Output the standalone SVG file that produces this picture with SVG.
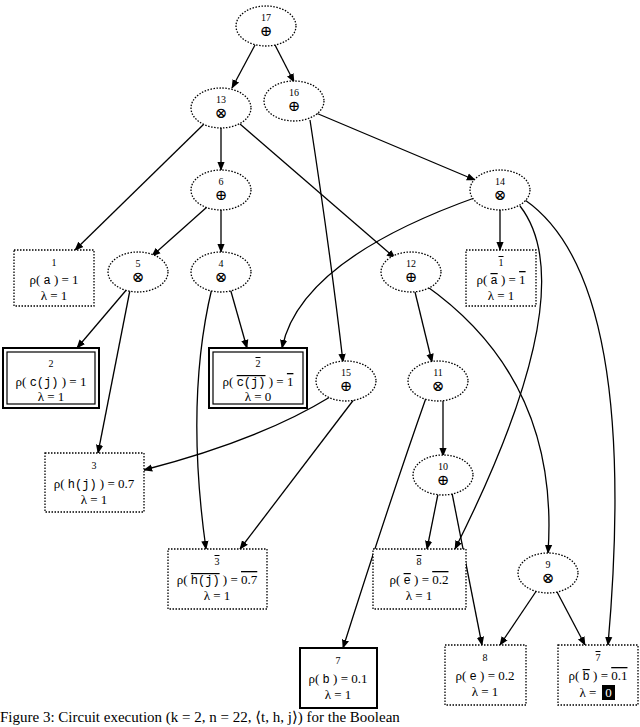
<svg xmlns="http://www.w3.org/2000/svg" width="640" height="727" viewBox="0 0 640 727">
<style>
.n{font-size:10px}.s{font-size:15px}.t{font-size:13px}
.m{font-family:"Liberation Mono",monospace;font-size:12px}
.ov{text-decoration:overline}
.e{fill:#fff;stroke:#000;stroke-width:1.3;stroke-dasharray:1.5 1.5}
.d{fill:#fff;stroke:#000;stroke-width:1.3;stroke-dasharray:1.5 1.5}
.b{fill:#fff;stroke:#000;stroke-width:2}
.c path{fill:none;stroke:#000;stroke-width:1.3;marker-end:url(#a)}
</style>
<defs><marker id="a" viewBox="0 0 10 10" refX="9" refY="5" markerWidth="7" markerHeight="7" orient="auto"><path d="M0,1 L10,5 L0,9 z" fill="#000"/></marker></defs>
<g class="c">
<path d="M255,45 L232,88"/><path d="M275,45 L294,82"/>
<path d="M221,128 L221,170"/><path d="M205,123 L75,250"/><path d="M240,124 L395,258"/>
<path d="M316,113 L475,180"/><path d="M310,120 Q330,250 343,362"/>
<path d="M207,207 L152,256"/><path d="M221,210 L221,252"/>
<path d="M500,210 L500,250"/><path d="M477,197 Q300,260 282,348"/>
<path d="M520,206 Q585,290 455,549"/><path d="M525,200 Q640,280 608,645"/>
<path d="M128,288 L77,348"/><path d="M130,290 L98,453"/>
<path d="M230,288 L247,348"/><path d="M212,288 Q185,400 206,549"/>
<path d="M415,292 L432,362"/><path d="M425,285 Q560,380 548,553"/>
<path d="M330,397 Q260,440 144,470"/><path d="M355,398 L240,549"/>
<path d="M443,400 L443,456"/><path d="M426,398 Q390,500 343,648"/>
<path d="M438,494 L427,549"/><path d="M452,493 L482,645"/>
<path d="M537,590 L500,645"/><path d="M556,590 L585,645"/>
</g>
<g font-family="Liberation Serif, DejaVu Serif, serif" text-anchor="middle" fill="#000">
<g id="n17"><ellipse class="e" cx="266" cy="26" rx="30" ry="20"/><text class="n" x="266" y="21">17</text><text class="s" x="266" y="36">⊕</text></g>
<g id="n13"><ellipse class="e" cx="221" cy="108" rx="30" ry="20"/><text class="n" x="221" y="103">13</text><text class="s" x="221" y="118">⊗</text></g>
<g id="n16"><ellipse class="e" cx="294" cy="101" rx="30" ry="20"/><text class="n" x="294" y="96">16</text><text class="s" x="294" y="111">⊕</text></g>
<g id="n6"><ellipse class="e" cx="221" cy="190" rx="30" ry="20"/><text class="n" x="221" y="185">6</text><text class="s" x="221" y="200">⊕</text></g>
<g id="n14"><ellipse class="e" cx="500" cy="190" rx="30" ry="20"/><text class="n" x="500" y="185">14</text><text class="s" x="500" y="200">⊗</text></g>
<g id="n5"><ellipse class="e" cx="138" cy="272" rx="30" ry="20"/><text class="n" x="138" y="267">5</text><text class="s" x="138" y="282">⊗</text></g>
<g id="n4"><ellipse class="e" cx="221" cy="272" rx="30" ry="20"/><text class="n" x="221" y="267">4</text><text class="s" x="221" y="282">⊗</text></g>
<g id="n12"><ellipse class="e" cx="411" cy="272" rx="30" ry="20"/><text class="n" x="411" y="267">12</text><text class="s" x="411" y="282">⊕</text></g>
<g id="n15"><ellipse class="e" cx="346" cy="381" rx="30" ry="20"/><text class="n" x="346" y="376">15</text><text class="s" x="346" y="391">⊕</text></g>
<g id="n11"><ellipse class="e" cx="438" cy="381" rx="30" ry="20"/><text class="n" x="438" y="376">11</text><text class="s" x="438" y="391">⊗</text></g>
<g id="n10"><ellipse class="e" cx="443" cy="475" rx="30" ry="20"/><text class="n" x="443" y="470">10</text><text class="s" x="443" y="485">⊕</text></g>
<g id="n9"><ellipse class="e" cx="548" cy="573" rx="30" ry="20"/><text class="n" x="548" y="568">9</text><text class="s" x="548" y="583">⊗</text></g>

<g id="b1"><rect class="d" x="14" y="250" width="80" height="56"/><text class="n" x="54" y="266">1</text><text class="t" x="54" y="284">ρ( <tspan class="m">a</tspan> ) = 1</text><text class="t" x="54" y="300">λ = 1</text></g>
<g id="b1b"><rect class="d" x="466" y="250" width="70" height="56"/><text class="n ov" x="501" y="266">1</text><text class="t" x="501" y="284">ρ( <tspan class="m ov">a</tspan> ) = <tspan class="ov">1</tspan></text><text class="t" x="501" y="300">λ = 1</text></g>
<g id="b2"><rect class="b" x="3" y="348" width="96" height="60"/><rect x="7" y="352" width="88" height="52" fill="none" stroke="#000" stroke-width="1.2"/><text class="n" x="51" y="367">2</text><text class="t" x="51" y="386">ρ( <tspan class="m">c(j)</tspan> ) = 1</text><text class="t" x="51" y="401">λ = 1</text></g>
<g id="b2b"><rect class="b" x="209" y="348" width="98" height="60"/><rect x="213" y="352" width="90" height="52" fill="none" stroke="#000" stroke-width="1.2"/><text class="n ov" x="258" y="367">2</text><text class="t" x="258" y="386">ρ( <tspan class="m ov">c(j)</tspan> ) = <tspan class="ov">1</tspan></text><text class="t" x="258" y="401">λ = 0</text></g>
<g id="b3"><rect class="d" x="45" y="453" width="99" height="59"/><text class="n" x="94" y="469">3</text><text class="t" x="94" y="488">ρ( <tspan class="m">h(j)</tspan> ) = 0.7</text><text class="t" x="94" y="504">λ = 1</text></g>
<g id="b3b"><rect class="d" x="168" y="549" width="99" height="60"/><text class="n ov" x="217" y="565">3</text><text class="t" x="217" y="584">ρ( <tspan class="m ov">h(j)</tspan> ) = <tspan class="ov">0.7</tspan></text><text class="t" x="217" y="600">λ = 1</text></g>
<g id="b8b"><rect class="d" x="373" y="549" width="93" height="60"/><text class="n ov" x="419" y="565">8</text><text class="t" x="419" y="584">ρ( <tspan class="m ov">e</tspan> ) = <tspan class="ov">0.2</tspan></text><text class="t" x="419" y="600">λ = 1</text></g>
<g id="b7"><rect class="b" x="300" y="648" width="77" height="60"/><text class="n" x="338" y="664">7</text><text class="t" x="338" y="683">ρ( <tspan class="m">b</tspan> ) = 0.1</text><text class="t" x="338" y="699">λ = 1</text></g>
<g id="b8"><rect class="d" x="445" y="645" width="81" height="60"/><text class="n" x="485" y="661">8</text><text class="t" x="485" y="680">ρ( <tspan class="m">e</tspan> ) = 0.2</text><text class="t" x="485" y="696">λ = 1</text></g>
<g id="b7b"><rect class="d" x="558" y="645" width="80" height="60"/><text class="n ov" x="598" y="661">7</text><text class="t" x="598" y="680">ρ( <tspan class="m ov">b</tspan> ) = <tspan class="ov">0.1</tspan></text><text class="t" x="588" y="697">λ =</text><rect x="602" y="685" width="13" height="15" fill="#000"/><text class="t" x="608.5" y="697" fill="#fff">0</text></g>
<text x="0" y="722" text-anchor="start" font-size="15">Figure 3: Circuit execution (k = 2, n = 22, ⟨t, h, j⟩) for the Boolean</text>
</g>
</svg>
